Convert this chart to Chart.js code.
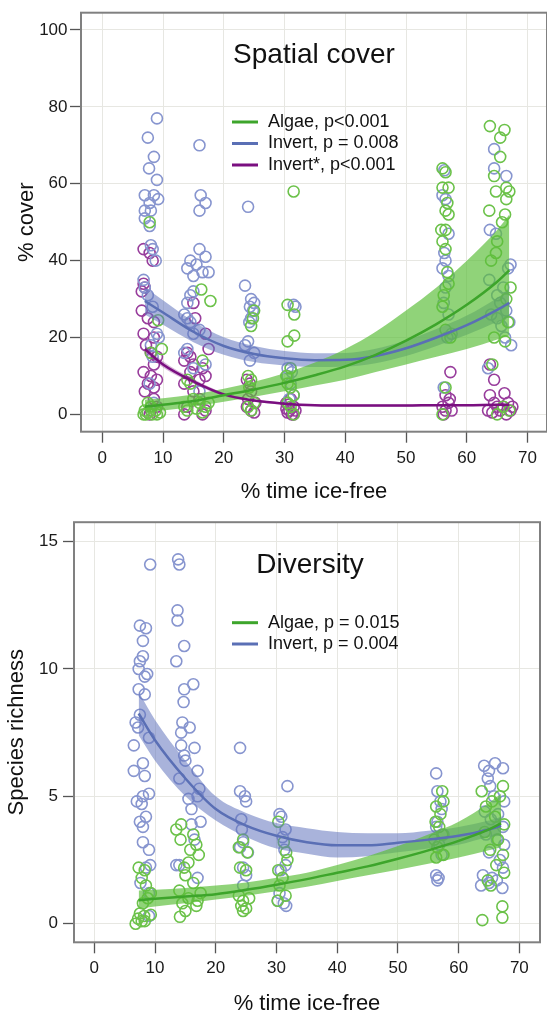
<!DOCTYPE html>
<html>
<head>
<meta charset="utf-8">
<script src="https://cdn.jsdelivr.net/npm/chart.js@4.4.1/dist/chart.umd.min.js"></script>
<style>
  html, body { margin: 0; padding: 0; background: #fff; }
  #wrap { position: relative; width: 547px; height: 1015px; }
  canvas { position: absolute; left: 0; }
  #cover { top: 0; }
  #diversity { top: 507px; }
</style>
</head>
<body>
<div id="wrap">
  <canvas id="cover" width="547" height="507"></canvas>
  <canvas id="diversity" width="547" height="508"></canvas>
</div>
<script>
// Ticks
const xTicks = [0, 10, 20, 30, 40, 50, 60, 70]
const coverTicks = [0, 20, 40, 60, 80, 100]
const richTicks = [0, 5, 10, 15]

// Leyendas
const coverLegend = ["Algae, p<0.001", "Invert, p = 0.008", "Invert*, p<0.001"]
const richLegend = ["Algae, p = 0.015", "Invert, p = 0.004"]

// Spatial cover: puntos [x, y]
const coverAlgae = [
  [7.8, 50], [9.2, 24.5], [9.8, 17], [8.0, 16], [7.5, 3], [8.0, 2], [7.0, 1], [7.5, 0.5], [6.8, 0], [7.2, 0], [8.2, 0], [9.0, 0], [8.8, 1], [9.5, 0.5],
  [16.3, 32.5], [17.8, 29.5], [16.5, 14], [14.0, 9], [14.5, 8], [15.0, 4], [16.0, 3], [17.0, 2], [14.0, 1], [16.5, 0.5], [17.5, 3], [15.5, 1.5], [13.5, 2],
  [25.0, 27], [24.8, 25], [24.5, 23], [24.0, 10], [24.5, 9], [24.2, 7], [25.0, 3], [24.0, 2], [24.5, 1],
  [31.5, 58], [30.5, 28.5], [31.6, 26], [31.6, 20.5], [30.5, 19], [31.0, 12], [30.3, 10], [30.5, 8], [31.0, 7], [31.5, 5], [30.5, 3], [31.0, 2], [31.5, 0],
  [56.0, 64], [56.5, 63], [56.0, 59], [57.0, 59], [56.8, 55], [56.5, 53], [57.0, 52], [55.8, 48], [56.5, 48], [56.0, 45], [56.5, 43], [56.8, 37], [57.0, 34], [56.2, 31], [56.0, 28], [56.5, 22], [57.3, 20], [56.5, 7], [56.0, 0],
  [63.8, 75], [66.2, 74], [65.5, 72], [65.5, 67], [64.5, 62], [66.5, 59], [64.8, 58], [67.0, 58], [66.5, 56], [63.7, 53], [66.3, 52], [65.8, 50], [65.0, 45], [64.8, 42], [64.0, 40], [67.2, 33], [66.5, 30], [66.8, 24], [64.5, 20], [66.3, 19], [64.2, 13], [65.0, 0], [66.0, 2], [67.0, 1],
]
const coverInvert = [
  [9.0, 77], [7.5, 72], [8.5, 67], [7.7, 64], [9.0, 61], [7.0, 57], [8.5, 57], [9.2, 56], [7.8, 55], [7.0, 53], [8.0, 53], [7.0, 51], [7.8, 49], [8.0, 44], [8.3, 43], [8.8, 40], [6.8, 35], [7.0, 33], [7.5, 31], [8.3, 28], [9.0, 21], [9.3, 20], [8.0, 18], [8.3, 15], [7.8, 8], [8.5, 3],
  [16.0, 70], [16.2, 57], [17.0, 55], [16.0, 53], [16.0, 43], [17.0, 41], [14.5, 40], [15.5, 39], [14.0, 38], [16.5, 37], [17.5, 37], [15.0, 36], [15.0, 32], [14.5, 31], [14.0, 29], [13.5, 26], [14.0, 25], [14.5, 24], [16.0, 22], [15.0, 21], [14.0, 17], [13.5, 16], [17.0, 13], [15.0, 12], [16.0, 6],
  [24.0, 54], [23.5, 33.5], [24.5, 30], [25.0, 29], [24.3, 28], [24.8, 27], [24.5, 25], [24.2, 24], [24.0, 19], [23.5, 18], [25.0, 16], [24.3, 14],
  [31.5, 28.5], [31.8, 28], [30.5, 12], [31.2, 11], [30.5, 10], [31.0, 8], [31.5, 5], [30.8, 4],
  [56.3, 63.5], [56.0, 57], [56.5, 56], [57.0, 47], [56.3, 42], [56.5, 40], [56.0, 38], [57.0, 36], [56.5, 33], [56.2, 29], [57.0, 26], [57.5, 21], [56.8, 20], [56.2, 7],
  [64.5, 69], [64.5, 64], [66.5, 62], [63.8, 48], [64.8, 47], [67.2, 39], [66.8, 38], [63.7, 35], [66.0, 33], [65.0, 31], [65.5, 29], [66.5, 27], [64.0, 26], [65.0, 25], [67.0, 24], [65.7, 23], [66.3, 20], [67.3, 18], [63.5, 12],
]
const coverInvertStar = [
  [6.8, 43], [7.8, 42], [8.3, 40], [6.8, 34], [7.0, 33], [6.5, 32], [6.5, 27], [7.5, 25], [8.5, 24], [6.8, 21], [8.5, 20], [7.2, 18], [8.0, 16], [9.0, 15], [8.5, 13], [6.8, 11], [8.0, 10], [9.0, 9], [7.5, 8], [8.5, 7], [7.0, 6], [8.5, 4], [9.0, 2], [8.0, 1], [7.8, 0],
  [15.0, 29], [15.3, 25], [17.0, 21], [17.5, 17], [14.0, 16], [14.5, 15], [13.5, 14], [15.0, 13], [16.5, 12], [14.5, 11], [17.0, 10], [16.0, 9], [13.5, 8], [15.0, 6], [16.0, 4], [14.0, 2], [17.0, 1], [13.5, 0], [16.5, 0],
  [23.8, 9], [24.3, 8], [24.5, 6], [24.0, 4], [23.8, 2], [24.5, 1], [25.0, 0.5], [25.2, 3],
  [30.3, 3], [30.8, 1], [31.2, 0], [31.5, 2], [30.5, 0.5], [31.0, 4], [31.8, 1], [30.3, 1.5], [31.5, 0], [30.7, 2.5],
  [57.3, 11], [56.5, 5], [57.0, 3], [56.0, 2], [56.5, 1], [56.2, 0], [57.5, 1], [57.2, 4],
  [63.8, 13], [64.5, 9], [66.2, 5.5], [63.8, 5], [64.5, 3], [65.0, 2], [66.0, 2], [63.5, 1], [65.5, 1], [66.5, 0], [67.2, 1], [67.5, 2], [64.2, 0.5], [66.8, 3],
]

// Spatial cover: curvas ajustadas y bandas
const coverFitX = [7, 10, 15, 20, 25, 30, 35, 40, 45, 50, 55, 60, 65, 67]
const coverAlgaeFit = [2.0, 2.5, 3.5, 5.0, 6.5, 8.2, 10.2, 12.5, 15.5, 19.2, 23.5, 28.5, 34.5, 37.5]
const coverAlgaeHi = [3.8, 4.2, 5.2, 6.7, 8.5, 10.7, 13.5, 17, 21.5, 27, 33, 40, 48, 52]
const coverAlgaeLo = [0.5, 1.0, 2.0, 3.3, 4.6, 6.0, 7.5, 9, 11, 13, 15, 17, 19.5, 20.5]
const coverInvertFit = [29.5, 26.5, 21.5, 17.8, 15.7, 14.6, 14.1, 14.2, 15.2, 17.2, 20, 23.2, 27.2, 29]
const coverInvertHi = [33, 29.7, 24.2, 20.1, 17.8, 16.5, 15.9, 16, 17.1, 19.2, 22.2, 25.7, 30.3, 32.5]
const coverInvertLo = [26, 23.3, 18.8, 15.5, 13.6, 12.7, 12.3, 12.4, 13.3, 15.2, 17.8, 20.7, 24.1, 25.5]
const coverStarFit = [17, 13, 8.6, 5.2, 3.6, 2.8, 2.4, 2.3, 2.3, 2.3, 2.4, 2.4, 2.5, 2.5]
const coverStarHi = [18.0, 13.8, 9.2, 5.6, 3.9, 3.1, 2.7, 2.6, 2.6, 2.6, 2.7, 2.7, 2.8, 2.9]
const coverStarLo = [16.0, 12.2, 8.0, 4.8, 3.3, 2.5, 2.1, 2.0, 2.0, 2.0, 2.1, 2.1, 2.2, 2.1]

// Diversity: puntos [x, y]
const richAlgae = [
  [7.3, 2.2], [8.3, 2.1], [7.8, 1.8], [8.5, 1.5], [9.3, 1.2], [8.8, 1.0], [8.0, 0.8], [7.5, 0.4], [7.2, 0.2], [7.8, 0.1], [6.8, 0], [8.3, 0.1], [8.2, 0.3], [9.3, 0.35],
  [14.3, 3.9], [13.5, 3.7], [16.3, 3.5], [14.2, 3.3], [16.8, 3.1], [15.8, 2.9], [17.2, 2.7], [15.5, 2.4], [14.8, 2.2], [15.0, 1.9], [16.3, 1.6], [14.0, 1.3], [17.5, 1.2], [15.5, 1.0], [14.5, 0.8], [16.8, 0.7], [15.0, 0.5], [14.1, 0.27], [17.0, 0.9],
  [24.5, 3.3], [23.8, 3.0], [25.2, 2.8], [24.0, 2.2], [25.0, 2.1], [23.8, 1.1], [25.5, 1.0], [24.5, 0.9], [24.2, 0.7], [25.0, 0.6], [24.5, 0.5],
  [30.3, 4.0], [31.2, 3.2], [31.8, 2.5], [30.3, 2.1], [31.0, 1.8], [30.5, 1.5], [31.5, 1.1], [30.2, 0.9], [31.6, 2.8],
  [57.3, 5.2], [57.5, 4.8], [56.3, 4.6], [57.0, 4.3], [56.2, 4.0], [56.8, 3.8], [57.3, 3.5], [56.5, 3.0], [57.5, 2.7], [56.3, 2.6], [56.0, 3.3],
  [67.3, 5.4], [63.8, 5.2], [66.8, 5.0], [65.5, 4.8], [64.5, 4.6], [66.0, 4.2], [67.5, 3.9], [64.3, 3.6], [66.5, 3.3], [65.2, 2.9], [67.3, 2.7], [66.2, 2.3], [67.5, 2.0], [64.8, 1.7], [65.3, 1.5], [67.2, 0.68], [67.2, 0.24], [63.9, 0.14],
]
const richInvert = [
  [9.2, 14.1], [7.5, 11.7], [8.5, 11.6], [8.0, 11.1], [8.0, 10.5], [7.5, 10.3], [7.3, 10.0], [8.7, 9.8], [8.3, 9.7], [7.3, 9.2], [8.3, 9.0], [7.5, 8.2], [6.8, 7.9], [7.2, 7.7], [9.0, 7.3], [6.5, 7.0], [8.0, 6.3], [6.5, 6.0], [8.3, 5.8], [9.0, 5.1], [8.0, 5.0], [7.0, 4.8], [7.8, 4.7], [8.5, 4.2], [7.5, 4.0], [8.0, 3.8], [8.0, 3.2], [9.0, 2.9], [9.2, 2.3], [8.5, 2.2], [7.6, 1.6], [9.0, 1.2], [9.0, 0.3],
  [13.8, 14.3], [14.0, 14.1], [13.7, 12.3], [13.7, 11.9], [14.8, 10.9], [13.5, 10.3], [16.3, 9.4], [14.8, 9.2], [14.7, 8.7], [14.5, 7.9], [15.7, 7.7], [14.3, 7.5], [14.3, 7.0], [16.5, 6.9], [14.8, 6.6], [15.0, 6.4], [17.0, 6.0], [14.0, 5.7], [17.3, 5.3], [17.0, 5.0], [15.5, 4.9], [16.0, 4.5], [17.5, 4.0], [16.0, 3.9], [16.5, 3.3], [14.0, 2.3], [17.0, 1.8], [13.5, 2.3],
  [24.0, 6.9], [24.0, 5.2], [24.8, 5.0], [25.0, 4.8], [24.2, 4.1], [24.3, 3.7], [24.5, 3.2], [24.0, 3.0], [25.3, 2.8], [24.5, 2.2], [25.0, 1.9], [24.5, 1.5],
  [31.8, 5.4], [30.5, 4.3], [30.8, 4.2], [31.5, 3.7], [31.0, 3.4], [31.3, 2.9], [31.5, 2.3], [30.7, 2.1], [31.0, 1.8], [30.5, 1.2], [30.2, 0.9], [31.2, 0.8], [31.6, 0.7],
  [56.3, 5.9], [56.5, 5.2], [57.0, 4.8], [57.2, 4.5], [56.5, 4.0], [56.3, 3.8], [57.5, 3.5], [56.8, 3.1], [57.2, 2.7], [56.3, 1.9], [56.7, 1.8], [56.5, 1.7],
  [66.0, 6.3], [64.2, 6.2], [67.3, 6.1], [65.0, 6.0], [64.8, 5.7], [65.2, 5.4], [65.8, 5.0], [67.5, 4.8], [64.3, 4.4], [66.5, 4.3], [65.3, 4.1], [67.3, 3.8], [64.5, 3.5], [66.3, 3.3], [67.5, 3.1], [65.0, 2.8], [66.8, 2.5], [67.3, 2.2], [64.0, 1.9], [65.5, 1.8], [66.3, 1.7], [63.7, 1.5], [67.2, 1.4], [65.0, 1.6],
]

// Diversity: curvas ajustadas y bandas
const richFitX = [7.3, 10, 15, 20, 25, 30, 35, 40, 45, 50, 55, 60, 65, 67]
const richAlgaeFit = [0.92, 0.98, 1.07, 1.16, 1.33, 1.53, 1.75, 2.0, 2.25, 2.55, 2.88, 3.25, 3.7, 3.94]
const richAlgaeHi = [1.3, 1.33, 1.4, 1.5, 1.62, 1.8, 2.0, 2.3, 2.65, 3.05, 3.5, 4.0, 4.75, 5.1]
const richAlgaeLo = [0.6, 0.68, 0.8, 0.95, 1.1, 1.27, 1.45, 1.68, 1.9, 2.12, 2.35, 2.6, 2.88, 3.0]
const richInvertFit = [8.25, 7.2, 5.7, 4.5, 3.85, 3.45, 3.2, 3.08, 3.08, 3.18, 3.3, 3.45, 3.7, 3.85]
const richInvertHi = [9.1, 8.0, 6.4, 5.0, 4.35, 3.95, 3.75, 3.6, 3.55, 3.55, 3.65, 3.8, 4.05, 4.2]
const richInvertLo = [7.4, 6.4, 5.0, 4.05, 3.4, 2.95, 2.75, 2.6, 2.65, 2.8, 2.95, 3.1, 3.4, 3.45]

const FONT = "'Liberation Sans', Arial, sans-serif"
Chart.defaults.font.family = FONT
Chart.defaults.color = "#1a1a1a"

const GREEN = "#6cc24a", GREEN_LINE = "#3da52b", GREEN_BAND = "rgba(92,190,58,0.68)"
const BLUE = "#8795cf", BLUE_LINE = "#5a6fb5", BLUE_BAND = "rgba(98,116,190,0.55)"
const PURPLE = "#983d9c", PURPLE_LINE = "#7a0f80", PURPLE_BAND = "rgba(122,15,128,0.3)"

// Marco, título y leyenda dentro del área
const panelDecor = {
  id: "panelDecor",
  afterDatasetsDraw(chart, args, o) {
    const { ctx, chartArea: a } = chart
    ctx.save()
    ctx.strokeStyle = "#808080"
    ctx.lineWidth = 2
    ctx.strokeRect(a.left, a.top, a.right - a.left, a.bottom - a.top)

    ctx.fillStyle = "#111"
    ctx.textBaseline = "middle"
    ctx.textAlign = "center"
    ctx.font = "28px " + FONT
    ctx.fillText(o.title, o.titleX, o.titleY)

    ctx.textAlign = "left"
    ctx.font = "18px " + FONT
    o.labels.forEach((label, i) => {
      const y = o.legendY + i * o.legendGap
      ctx.strokeStyle = o.colors[i]
      ctx.lineWidth = 3
      ctx.beginPath()
      ctx.moveTo(o.legendX, y)
      ctx.lineTo(o.legendX + 26, y)
      ctx.stroke()
      ctx.fillText(label, o.legendX + 36, y)
    })
    ctx.restore()
  },
}

function scatterSet(pairs, color) {
  return {
    data: pairs.map(([x, y]) => ({ x, y })),
    showLine: false,
    pointRadius: 5.5,
    pointBorderWidth: 1.6,
    pointBorderColor: color,
    pointBackgroundColor: "rgba(0,0,0,0)",
    order: 3,
  }
}

function fitSets(xs, mid, lo, hi, lineColor, bandColor) {
  const toPts = (ys) => xs.map((x, i) => ({ x, y: ys[i] }))
  return [
    { data: toPts(hi), borderWidth: 0, pointRadius: 0, fill: "+1", backgroundColor: bandColor, cubicInterpolationMode: "monotone", order: 2 },
    { data: toPts(lo), borderWidth: 0, pointRadius: 0, fill: false, cubicInterpolationMode: "monotone", order: 2 },
    { data: toPts(mid), borderColor: lineColor, borderWidth: 2.5, pointRadius: 0, fill: false, cubicInterpolationMode: "monotone", order: 1 },
  ]
}

function makeScales(p) {
  const grid = { color: "#e7e7e2", lineWidth: 1, tickLength: 11, tickColor: "#555", tickWidth: 1.3 }
  return {
    x: {
      type: "linear",
      min: p.xMin,
      max: p.xMax,
      afterBuildTicks: (s) => { s.ticks = xTicks.map((v) => ({ value: v })) },
      afterFit: (s) => { s.height = p.xHeight },
      grid: grid,
      border: { display: false },
      ticks: { font: { size: 17 }, padding: 5, color: "#1a1a1a", maxRotation: 0 },
      title: { display: true, text: "% time ice-free", font: { size: 22 }, padding: { top: 0, bottom: p.xTitlePad }, color: "#111" },
    },
    y: {
      min: p.yMin,
      max: p.yMax,
      afterBuildTicks: (s) => { s.ticks = p.yTicks.map((v) => ({ value: v })) },
      afterFit: (s) => { s.width = p.yWidth },
      grid: grid,
      border: { display: false },
      ticks: { font: { size: 17 }, padding: p.yLabelPad, color: "#1a1a1a" },
      title: { display: true, text: p.yTitle, font: { size: 22 }, padding: { top: p.yTitlePad, bottom: 0 }, color: "#111" },
    },
  }
}

function baseOptions(scales, layout, decor) {
  return {
    responsive: false,
    animation: false,
    layout: { padding: layout, autoPadding: false },
    plugins: { legend: { display: false }, tooltip: { enabled: false }, panelDecor: decor },
    events: [],
    scales: scales,
  }
}

// Panel superior: Spatial cover
new Chart(document.getElementById("cover"), {
  type: "line",
  data: {
    datasets: [
      scatterSet(coverAlgae, GREEN),
      scatterSet(coverInvert, BLUE),
      scatterSet(coverInvertStar, PURPLE),
      ...fitSets(coverFitX, coverAlgaeFit, coverAlgaeLo, coverAlgaeHi, GREEN_LINE, GREEN_BAND),
      ...fitSets(coverFitX, coverInvertFit, coverInvertLo, coverInvertHi, BLUE_LINE, BLUE_BAND),
      ...fitSets(coverFitX, coverStarFit, coverStarLo, coverStarHi, PURPLE_LINE, PURPLE_BAND),
    ],
  },
  options: baseOptions(
    makeScales({ xMin: -3.5, xMax: 73.2, yMin: -4.5, yMax: 104.5, yTicks: coverTicks, yWidth: 81, xHeight: 75.3, yTitle: "% cover", yTitlePad: 13.8, yLabelPad: 2.5, xTitlePad: 2 }),
    { top: 10, right: 0, left: 0, bottom: 0 },
    { title: "Spatial cover", titleX: 314, titleY: 55, labels: coverLegend, colors: [GREEN_LINE, BLUE_LINE, PURPLE_LINE], legendX: 232, legendY: 122, legendGap: 21.5 }
  ),
  plugins: [panelDecor],
})

// Panel inferior: Diversity
new Chart(document.getElementById("diversity"), {
  type: "line",
  data: {
    datasets: [
      scatterSet(richAlgae, GREEN),
      scatterSet(richInvert, BLUE),
      ...fitSets(richFitX, richAlgaeFit, richAlgaeLo, richAlgaeHi, GREEN_LINE, GREEN_BAND),
      ...fitSets(richFitX, richInvertFit, richInvertLo, richInvertHi, BLUE_LINE, BLUE_BAND),
    ],
  },
  options: baseOptions(
    makeScales({ xMin: -3.35, xMax: 73.4, yMin: -0.73, yMax: 15.76, yTicks: richTicks, yWidth: 74, xHeight: 72.7, yTitle: "Species richness", yTitlePad: 3.3, yLabelPad: 5, xTitlePad: -2 }),
    { top: 13, right: 7, left: 0, bottom: 0 },
    { title: "Diversity", titleX: 310, titleY: 58, labels: richLegend, colors: [GREEN_LINE, BLUE_LINE], legendX: 232, legendY: 115.7, legendGap: 21.3 }
  ),
  plugins: [panelDecor],
})
</script>
</body>
</html>
